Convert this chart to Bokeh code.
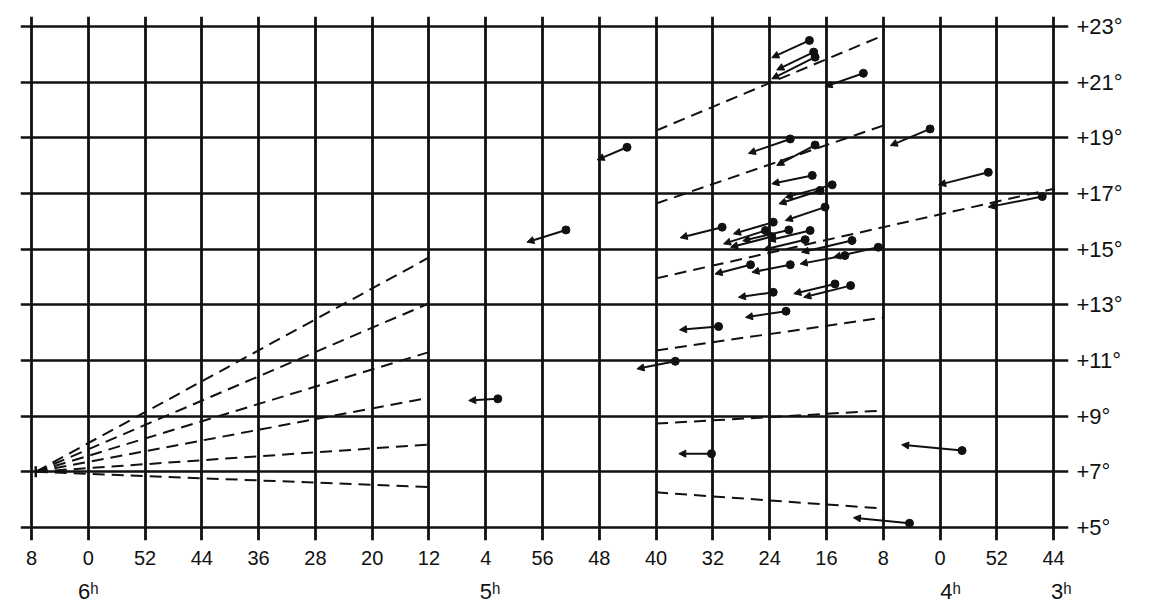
from bokeh.plotting import figure
from bokeh.models import Range1d, FixedTicker, LinearAxis, Arrow, NormalHead, ColumnDataSource
from bokeh.embed import file_html
from bokeh.resources import INLINE

# Right ascension in minutes of time (6h08m = 368), declination in degrees
star_ra = [258.4, 257.8, 257.6, 250.8, 241.4, 233.2, 225.6, 284.1, 292.7, 270.7,
           277.3, 271.2, 302.3, 272.2, 236.9, 244.3, 261.1, 257.6, 258.0, 255.2,
           256.9, 256.2, 263.5, 261.3, 258.3, 264.6, 263.7, 259.0, 252.4, 248.7,
           253.4, 266.7, 261.1, 263.5, 254.8, 252.6, 261.7]
star_dec = [22.50, 22.08, 21.90, 21.32, 19.32, 17.76, 16.89, 18.66, 15.69, 15.79,
            10.97, 12.22, 9.62, 7.65, 7.76, 5.15, 18.96, 18.74, 17.65, 17.31,
            17.11, 16.51, 15.97, 15.69, 15.67, 15.67, 15.45, 15.34, 15.31, 15.07,
            14.77, 14.44, 14.44, 13.45, 13.75, 13.69, 12.77]
tip_ra = [263.7, 263.0, 263.7, 256.2, 247.0, 240.2, 233.2, 288.3, 298.2, 276.6,
          282.7, 276.7, 306.4, 276.8, 245.4, 252.2, 267.0, 263.0, 263.7, 261.8,
          262.7, 261.8, 269.1, 267.8, 264.2, 270.5, 269.5, 264.9, 259.5, 255.0,
          259.7, 271.7, 266.5, 268.4, 260.6, 259.2, 267.4]
tip_dec = [21.88, 21.44, 21.12, 20.84, 18.72, 17.31, 16.51, 18.21, 15.25, 15.41,
           10.70, 12.10, 9.56, 7.65, 7.97, 5.35, 18.44, 18.01, 17.35, 16.86,
           16.63, 16.03, 15.55, 15.30, 15.31, 15.19, 15.07, 14.98, 14.89, 14.71,
           14.47, 14.11, 14.17, 13.27, 13.40, 13.27, 12.55]

# convergent point and the great circles drawn toward it
conv_ra = 367.4
conv_dec = 7.0
fan_end_ra = [312, 312, 312, 312, 312, 312]
fan_end_dec = [14.70, 13.05, 11.30, 9.66, 7.98, 6.45]
circle_start_ra = [280, 280, 280, 280, 280, 280]
circle_start_dec = [19.26, 16.64, 13.95, 11.36, 8.73, 6.26]
circle_end_ra = [248, 248, 223.8, 248, 248, 248]
circle_end_dec = [22.68, 19.44, 17.18, 12.54, 9.20, 5.68]

# axes
ra_ticks = [368, 360, 352, 344, 336, 328, 320, 312, 304, 296, 288, 280, 272, 264, 256, 248, 240, 232, 224]
ra_labels = ["8", "0", "52", "44", "36", "28", "20", "12", "4", "56", "48", "40", "32", "24", "16", "8", "0", "52", "44"]
hour_ticks = [360, 303.4, 238.5, 222.9]
hour_labels = ["6ʰ", "5ʰ", "4ʰ", "3ʰ"]
dec_ticks = [5, 7, 9, 11, 13, 15, 17, 19, 21, 23]
dec_labels = ["+5°", "+7°", "+9°", "+11°", "+13°", "+15°", "+17°", "+19°", "+21°", "+23°"]

INK = "#111111"
FONT = "Liberation Sans"

p = figure(width=1150, height=608,
           x_range=Range1d(369.55, 221.9), y_range=Range1d(4.53, 23.36),
           output_backend="svg", toolbar_location=None,
           x_axis_location="below", y_axis_location="right",
           min_border_left=20, min_border_right=82, min_border_top=16, min_border_bottom=68)
p.outline_line_color = None
p.background_fill_color = "white"
p.border_fill_color = "white"

# grid
p.xgrid.ticker = FixedTicker(ticks=ra_ticks)
p.xgrid.grid_line_color = INK
p.xgrid.grid_line_width = 2.8
p.ygrid.ticker = FixedTicker(ticks=dec_ticks)
p.ygrid.grid_line_color = INK
p.ygrid.grid_line_width = 2.3

def style_axis(ax, standoff, size="20px"):
    ax.axis_line_color = None
    ax.major_tick_line_color = None
    ax.minor_tick_line_color = None
    ax.major_tick_out = 0
    ax.major_tick_in = 0
    ax.major_label_standoff = standoff
    ax.major_label_text_font = FONT
    ax.major_label_text_font_size = size
    ax.major_label_text_color = INK

xa = p.xaxis[0]
xa.ticker = FixedTicker(ticks=ra_ticks)
xa.major_label_overrides = {t: l for t, l in zip(ra_ticks, ra_labels)}
style_axis(xa, 10, "20px")

ha = LinearAxis(ticker=FixedTicker(ticks=hour_ticks),
                major_label_overrides={t: l for t, l in zip(hour_ticks, hour_labels)})
style_axis(ha, 11, "22px")
p.add_layout(ha, "below")

ya = p.yaxis[0]
ya.ticker = FixedTicker(ticks=dec_ticks)
ya.major_label_overrides = {t: l for t, l in zip(dec_ticks, dec_labels)}
style_axis(ya, 8, "22px")

# dashed great circles
n = len(fan_end_ra)
p.segment([conv_ra] * n, [conv_dec] * n, fan_end_ra, fan_end_dec,
          line_color=INK, line_width=2, line_dash="12 7")
p.segment(circle_start_ra, circle_start_dec, circle_end_ra, circle_end_dec,
          line_color=INK, line_width=2, line_dash="12 7")
# convergent point mark
p.segment([conv_ra], [conv_dec - 0.2], [conv_ra], [conv_dec + 0.2], line_color=INK, line_width=2.5)

# proper motion vectors
src = ColumnDataSource(dict(x0=star_ra, y0=star_dec, x1=tip_ra, y1=tip_dec))
p.add_layout(Arrow(end=NormalHead(size=7, fill_color=INK, line_color=INK, line_width=1),
                   x_start="x0", y_start="y0", x_end="x1", y_end="y1", source=src,
                   line_color=INK, line_width=2))
p.scatter(star_ra, star_dec, size=8, color=INK)

open("out.html", "w").write(file_html(p, INLINE))
